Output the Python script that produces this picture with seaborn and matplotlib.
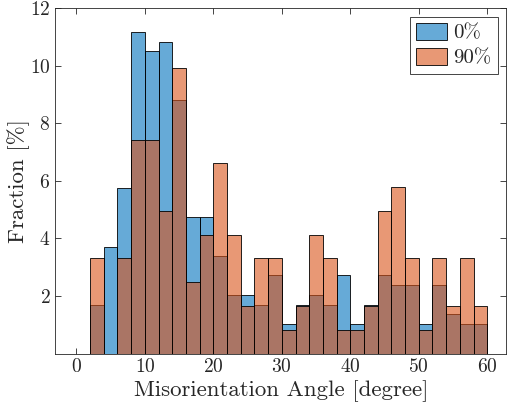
# Misorientation angle histogram, 0% vs 90%
import numpy as np
import matplotlib
matplotlib.use('Agg')
import matplotlib.pyplot as plt
import seaborn as sns

sns.set_style('ticks')
matplotlib.rcParams['font.family'] = ['cmr10', 'DejaVu Serif']
matplotlib.rcParams['mathtext.fontset'] = 'cm'
matplotlib.rcParams['axes.formatter.use_mathtext'] = True
matplotlib.rcParams['axes.unicode_minus'] = False

# bin edges (degree) and fraction per bin (%)
bin_edges = list(range(0, 62, 2))
bin_centers = [e + 1 for e in bin_edges[:-1]]
frac_0 = [0, 1.70, 3.71, 5.75, 11.17, 10.50, 10.83, 8.82, 4.74, 4.74,
          3.39, 2.03, 2.03, 1.70, 2.72, 1.02, 1.70, 2.03, 1.70, 2.72,
          1.02, 1.70, 2.72, 2.37, 2.37, 1.02, 2.37, 1.36, 1.02, 1.02]
frac_90 = [0, 3.31, 0, 3.31, 7.43, 7.43, 4.96, 9.91, 2.48, 4.13,
           6.61, 4.13, 1.65, 3.31, 3.31, 0.83, 1.65, 4.13, 3.31, 0.83,
           0.83, 1.65, 4.96, 5.79, 3.31, 0.83, 3.31, 1.65, 3.31, 1.65]
labels = ['0%', '90%']
colors = [(0, 0.447, 0.741), (0.850, 0.325, 0.098)]
axis_gray = (0.15, 0.15, 0.15)

fig = plt.figure(figsize=(5.11, 4.13), dpi=100)
ax = fig.add_axes([0.108, 0.144, 0.883, 0.836])

for vals, lab, col in zip([frac_0, frac_90], labels, colors):
    sns.histplot(x=bin_centers, weights=vals, bins=bin_edges, color=col,
                 alpha=0.6, edgecolor='k', linewidth=0.6, label=lab, ax=ax)

ax.set_xlim(-3.1, 62.8)
ax.set_ylim(0, 12)
ax.set_xticks(range(0, 61, 10))
ax.set_yticks(range(2, 13, 2))
ax.set_xlabel('Misorientation Angle [degree]', fontsize=16.5, color=axis_gray,
              labelpad=3)
ax.set_ylabel('Fraction [%]', fontsize=16.5, color=axis_gray, labelpad=0)
ax.tick_params(direction='in', top=True, right=True, labelsize=14,
               colors=axis_gray, length=4, width=0.6)
for s in ax.spines.values():
    s.set_color(axis_gray)
    s.set_linewidth(0.6)

leg = ax.legend(loc='upper right', fontsize=15, fancybox=False, framealpha=1,
                edgecolor=axis_gray, handlelength=1.5, handleheight=0.9,
                borderaxespad=0.4, handletextpad=0.3, borderpad=0.3,
                labelspacing=0.25)
leg.get_frame().set_linewidth(0.6)

fig.savefig('out.png', dpi=100)
